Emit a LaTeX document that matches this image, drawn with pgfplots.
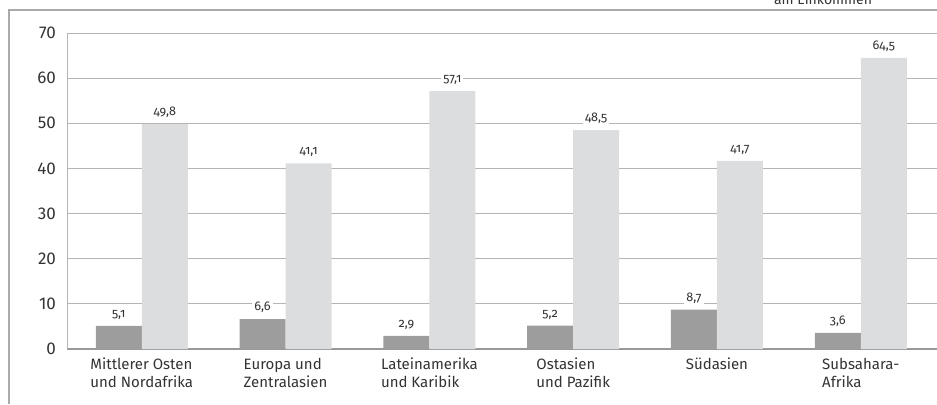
\documentclass[border=0pt]{standalone}
\usepackage{fontspec}
\setmainfont{Fira Sans}
\newfontfamily\oldfont[Numbers=OldStyle]{Fira Sans}
\usepackage{pgfplots}
\pgfplotsset{compat=1.18}
\definecolor{darkbar}{HTML}{9D9D9D}
\definecolor{lightbar}{HTML}{DCDDDF}
\definecolor{gridc}{HTML}{B4B4B4}
\definecolor{framec}{HTML}{AAAAAA}
\definecolor{basec}{HTML}{999999}
\definecolor{txt}{HTML}{333333}

\pgfplotstableread{
x dark light
0 5.1 49.8
1 6.6 41.1
2 2.9 57.1
3 5.2 48.5
4 8.7 41.7
5 3.6 64.5
}\datatable

\begin{document}
\begin{tikzpicture}
\path[use as bounding box] (-33.5pt,-27.5pt) rectangle (435pt,174.5pt);
\draw[framec, line width=0.6pt] (-29pt,-27.5pt) -- (-29pt,169.5pt) -- (440pt,169.5pt);
\node[anchor=base, font=\fontsize{7}{8}\selectfont, text=txt] at (378pt,172.5pt) {am Einkommen};
\begin{axis}[
  at={(0pt,0pt)}, anchor=south west,
  width=435pt, height=158pt, scale only axis,
  xmin=-0.52, xmax=5.53, ymin=0, ymax=70,
  enlargelimits=false,
  ybar=0pt, bar width=23pt,
  xtick={0,...,5},
  xticklabels={{Mittlerer Osten\\und Nordafrika},{Europa und\\Zentralasien},{Lateinamerika\\und Karibik},{Ostasien\\und Pazifik},{Südasien},{Subsahara-\\Afrika}},
  xticklabel style={align=left, font=\fontsize{7.5}{9}\selectfont, text=txt, yshift=-1pt},
  ytick={0,10,...,70},
  yticklabel style={font=\fontsize{8.5}{10}\selectfont, text=txt, xshift=-2pt},
  /pgf/number format/assume math mode=true,
  ymajorgrids, major grid style={gridc, line width=0.5pt},
  axis x line*=bottom, axis y line*=left,
  x axis line style={basec, line width=1.2pt, -},
  y axis line style={gridc, line width=0.5pt, -},
  tick style={draw=none}, major tick length=0pt,
  nodes near coords,
  nodes near coords style={font=\oldfont\fontsize{6.3}{7}\selectfont, text=txt, fill=white, inner sep=1pt, yshift=2pt,
    /pgf/number format/.cd, use comma, fixed, precision=1, fixed zerofill},
  clip=false,
]
\addplot[fill=darkbar, draw=none] table[x=x, y=dark] {\datatable};
\addplot[fill=lightbar, draw=none] table[x=x, y=light] {\datatable};
\end{axis}
\end{tikzpicture}
\end{document}
